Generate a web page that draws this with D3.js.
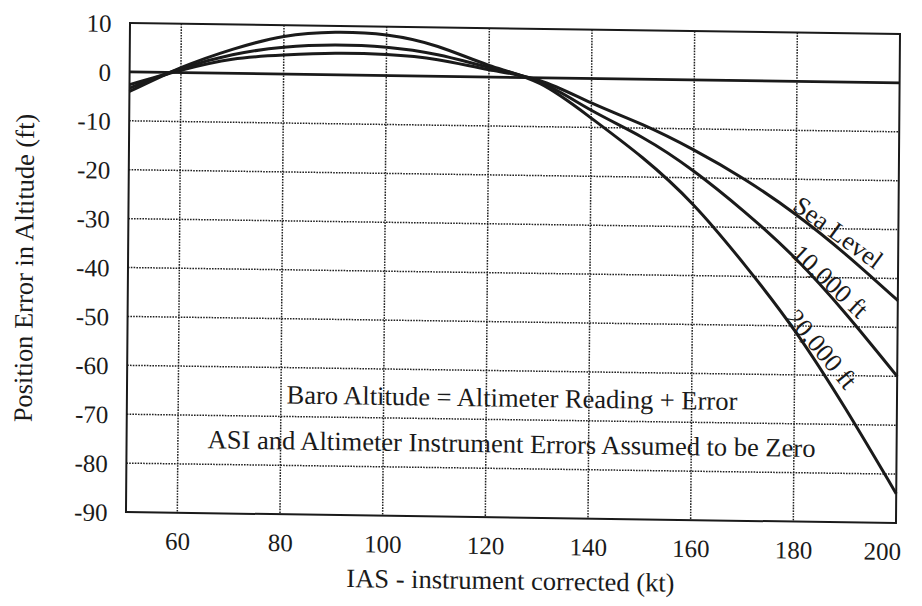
<!DOCTYPE html>
<html>
<head>
<meta charset="utf-8">
<script src="https://cdn.jsdelivr.net/npm/d3@7"></script>
<style>
  html, body { margin: 0; padding: 0; background: #fff; }
  svg { display: block; }
  text { font-family: "Liberation Serif", "Times New Roman", serif; fill: #1a1a1a; }
</style>
</head>
<body>
<svg id="chart" width="922" height="606"></svg>
<script>
// ---- data ----
const speeds   = [50, 60, 70, 80, 90, 100, 110, 120, 130, 140, 150, 160, 170, 180, 190, 200];
const seaLevel = [-2.6, 0.5, 2.9, 3.9, 4.4, 4.3, 3.4, 1.5, -0.6, -5.0, -9.3, -14.3, -20.2, -27.2, -35.4, -44.5];
const alt10k   = [-3.3, 0.8, 3.8, 5.5, 6.1, 5.8, 4.4, 2.0, -0.9, -6.5, -11.9, -18.6, -26.8, -36.2, -47.5, -60.0];
const alt20k   = [-4.0, 1.0, 4.9, 7.7, 8.7, 8.3, 6.1, 2.4, -1.2, -8.1, -16.0, -25.5, -37.5, -51.0, -66.8, -84.0];
const seriesNames = ["Sea Level", "10,000 ft", "20,000 ft"];
const xTicks = [60, 80, 100, 120, 140, 160, 180, 200];
const yTicks = [10, 0, -10, -20, -30, -40, -50, -60, -70, -80, -90];
const xTitle = "IAS - instrument corrected (kt)";
const yTitle = "Position Error in Altitude (ft)";
const notes = ["Baro Altitude = Altimeter Reading + Error",
               "ASI and Altimeter Instrument Errors Assumed to be Zero"];

// ---- layout ----
const FONT = '"Liberation Serif", "Times New Roman", serif';
const W = 770, H = 490;
const svg = d3.select("#chart");
// the scanned original is slightly skewed; reproduce with an affine transform
const g = svg.append("g")
  .attr("transform", "translate(130,23) matrix(1,0.0143,-0.0082,0.998,0,0)");

const x = d3.scaleLinear().domain([50, 200]).range([0, W]);
const y = d3.scaleLinear().domain([-90, 10]).range([H, 0]);

// grid
const gridStyle = sel => sel.attr("stroke", "#222").attr("stroke-width", 1.5)
  .attr("stroke-dasharray", "1.6,1.2").attr("fill", "none");

g.append("g").selectAll("line").data(xTicks.filter(d => d < 200)).join("line")
  .attr("x1", d => x(d)).attr("x2", d => x(d)).attr("y1", 0).attr("y2", H)
  .call(gridStyle);
g.append("g").selectAll("line").data(yTicks.filter(d => d < 10 && d > -90 && d !== 0)).join("line")
  .attr("y1", d => y(d)).attr("y2", d => y(d)).attr("x1", 0).attr("x2", W)
  .call(gridStyle);

// zero line (solid)
g.append("line").attr("x1", 0).attr("x2", W).attr("y1", y(0)).attr("y2", y(0))
  .attr("stroke", "#1a1a1a").attr("stroke-width", 2.8);

// frame
g.append("rect").attr("x", 0).attr("y", 0).attr("width", W).attr("height", H)
  .attr("fill", "none").attr("stroke", "#1a1a1a").attr("stroke-width", 2);

// axes (labels only)
const fmt = d => String(d);   // plain hyphen minus, as in the original
const xAxis = d3.axisBottom(x).tickValues(xTicks).tickFormat(fmt).tickSize(0).tickPadding(0);
const xa = g.append("g").attr("transform", `translate(0,${H})`).call(xAxis)
  .attr("font-family", FONT).attr("font-size", 25);
xa.select(".domain").remove();
xa.selectAll("text").attr("dy", null).attr("y", 37)
  .attr("dx", d => d === 200 ? -14 : 0)
  .style("font-family", FONT).attr("fill", "#1a1a1a");

const yAxis = d3.axisLeft(y).tickValues(yTicks).tickFormat(fmt).tickSize(0).tickPadding(0);
const ya = g.append("g").call(yAxis)
  .attr("font-family", FONT).attr("font-size", 25);
ya.select(".domain").remove();
ya.selectAll("text").attr("x", -18.5).attr("dy", "0.35em")
  .style("font-family", FONT).attr("fill", "#1a1a1a");

// curves
const line = d3.line().x(d => x(d[0])).y(d => y(d[1])).curve(d3.curveNatural);
const allSeries = [seaLevel, alt10k, alt20k];
g.append("g").selectAll("path").data(allSeries).join("path")
  .attr("d", vals => line(speeds.map((s, i) => [s, vals[i]])))
  .attr("fill", "none").attr("stroke", "#1a1a1a").attr("stroke-width", 3)
  .attr("stroke-linejoin", "round");

// curve labels (position in data units, angle in degrees)
const curveLabels = [
  { name: seriesNames[0], at: [188.3, -30.7], angle: 35.5 },
  { name: seriesNames[1], at: [186.8, -40.7], angle: 42.5 },
  { name: seriesNames[2], at: [185.3, -54.6], angle: 49.5 }
];
g.append("g").selectAll("text").data(curveLabels).join("text")
  .attr("transform", d => `translate(${x(d.at[0])},${y(d.at[1])}) rotate(${d.angle})`)
  .attr("text-anchor", "middle").attr("dy", "0.35em")
  .attr("font-size", 26).text(d => d.name);

// notes
g.append("text").attr("x", W / 2).attr("y", 379).attr("text-anchor", "middle")
  .attr("font-size", 26.5).text(notes[0]);
g.append("text").attr("x", W / 2).attr("y", 425).attr("text-anchor", "middle")
  .attr("font-size", 26.5).text(notes[1]);

// axis titles
g.append("text").attr("x", W / 2).attr("y", 562).attr("text-anchor", "middle")
  .attr("font-size", 26.5).text(xTitle);
g.append("text").attr("transform", `translate(-95,${H / 2 + 2}) rotate(-90)`)
  .attr("text-anchor", "middle").attr("font-size", 26.5).text(yTitle);
</script>
</body>
</html>
